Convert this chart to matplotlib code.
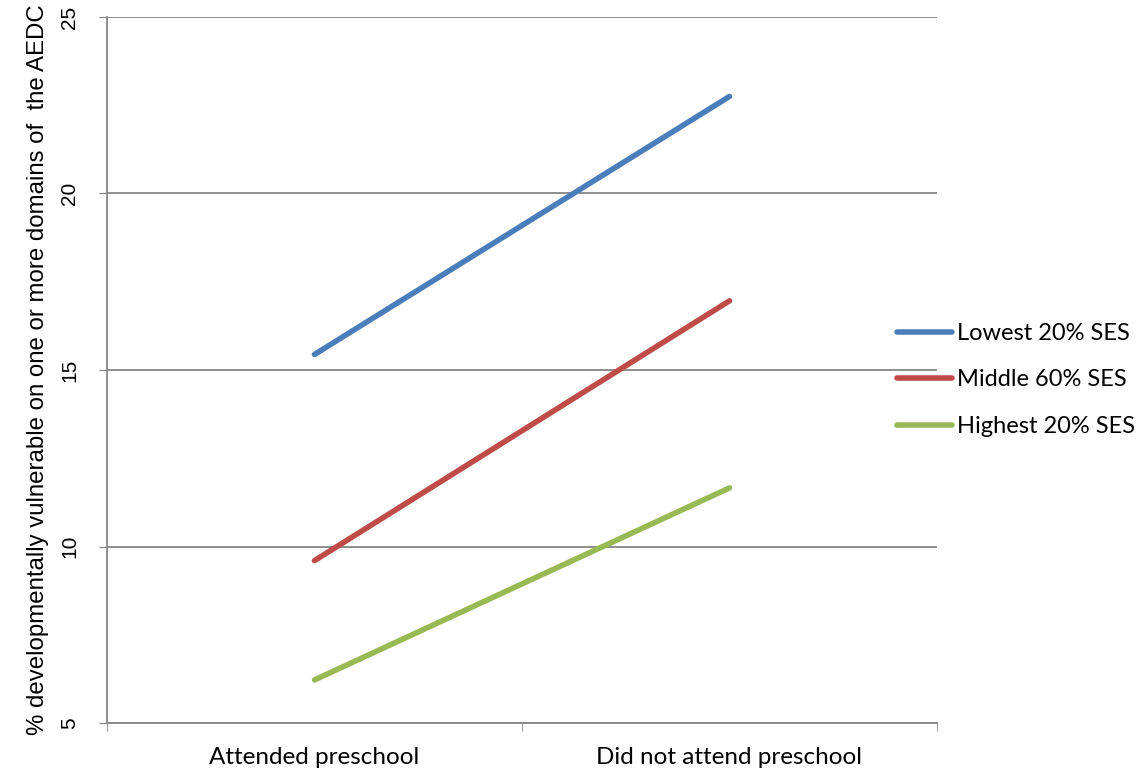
import matplotlib
matplotlib.use("Agg")
import matplotlib.pyplot as plt

categories = ["Attended preschool", "Did not attend preschool"]
series_names = ["Lowest 20% SES", "Middle 60% SES", "Highest 20% SES"]
lowest = [15.44, 22.75]
middle = [9.6, 16.96]
highest = [6.22, 11.66]
colors = ["#4A7EBB", "#BE4B48", "#98B954"]
yticks = [5, 10, 15, 20, 25]

fig = plt.figure(figsize=(11.36, 7.73), dpi=100)
ax = fig.add_axes([107/1136, 1-723/773, (937-107)/1136, (723-17)/773])

narrow = ["Liberation Sans Narrow", "Liberation Sans", "DejaVu Sans"]
body = ["Lato", "DejaVu Sans"]

x = list(range(len(categories)))
handles = []
for vals, c, name in zip([lowest, middle, highest], colors, series_names):
    h, = ax.plot(x, vals, color=c, lw=4.0, solid_capstyle="round", label=name)
    handles.append(h)

ax.set_xlim(-0.5, 1.5)
ax.set_ylim(5, 25)
ax.set_yticks(yticks)
ax.set_yticklabels([str(v) for v in yticks], rotation=90, va="center",
                   fontsize=15, family=narrow)
ax.set_xticks(x)
ax.set_xticklabels(categories, fontsize=17.5, family=body)
ax.set_xticks([-0.5, 0.5, 1.5], minor=True)
ax.tick_params(axis="x", which="major", length=0, pad=17)
ax.tick_params(axis="x", which="minor", length=6, color="#868686", direction="out")
ax.tick_params(axis="y", length=6, color="#868686", pad=14)
ax.grid(axis="y", color="#868686", lw=1.3)
ax.set_axisbelow(True)
for s in ["top", "right"]:
    ax.spines[s].set_visible(False)
for s in ["left", "bottom"]:
    ax.spines[s].set_color("#868686")
    ax.spines[s].set_linewidth(1.3)

ax.set_ylabel("% developmentally vulnerable on one or more domains of  the AEDC",
              fontsize=17.3, family=narrow, labelpad=8)

leg = fig.legend(handles=handles, loc="center left", bbox_to_anchor=(897/1136, 1-380/773),
                 frameon=False, prop={"family": body, "size": 17},
                 handlelength=2.35, handletextpad=0.2, labelspacing=1.08,
                 borderpad=0, borderaxespad=0)

fig.savefig("out.png", dpi=100)
